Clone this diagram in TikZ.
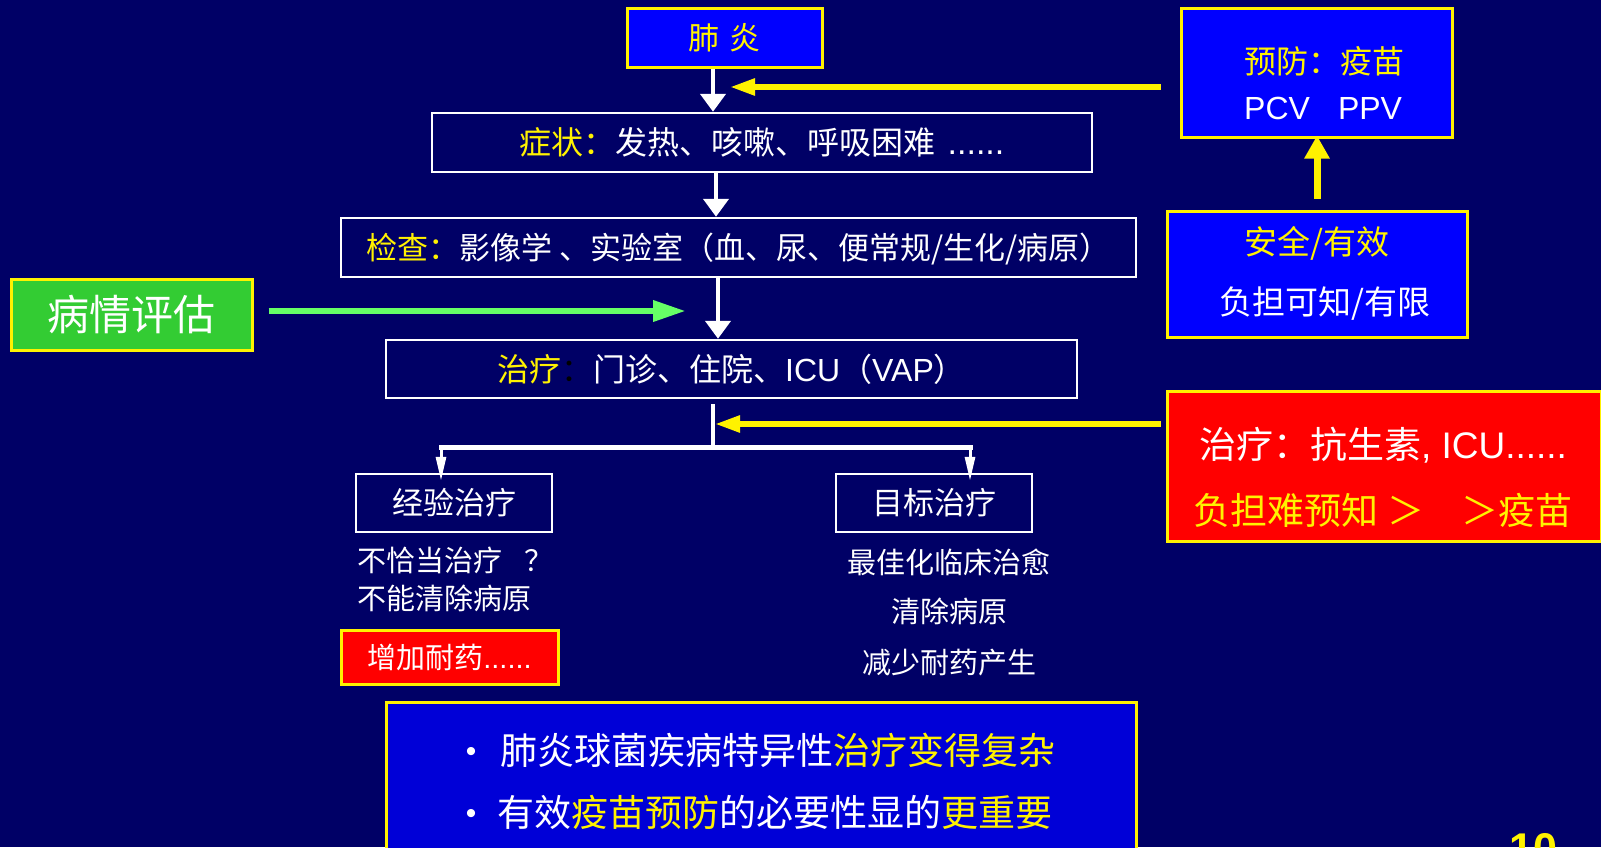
\documentclass[tikz,border=0pt]{standalone}
\usepackage{fontspec}
\setmainfont{Noto Sans CJK SC}
\newfontfamily\ar{Liberation Sans}
\usetikzlibrary{arrows.meta}
\definecolor{bg}{RGB}{0,0,102}
\definecolor{boxblue}{RGB}{0,0,255}
\definecolor{botblue}{RGB}{0,0,215}
\definecolor{gbox}{RGB}{51,204,51}
\definecolor{garrow}{RGB}{102,255,102}
\definecolor{rbox}{RGB}{255,0,0}
\newcommand\fsz[1]{\fontsize{#1}{#1}\selectfont}
\tikzset{
  fs/.style={font=\fsz{#1}, text height=0.88*#1, text depth=0.12*#1, inner sep=0pt},
  wbox/.style={draw=white, line width=2.5pt, text=white, inner sep=0pt},
  ybox/.style={draw=yellow, line width=3pt, fill=boxblue, inner sep=0pt},
  wtxt/.style={text=white},
  ytxt/.style={text=yellow},
  warrow/.style={white, line width=4.5pt, -{Triangle[width=25pt,length=18pt]}},
  yarrow/.style={yellow, line width=5.5pt, -{Triangle[width=16pt,length=25pt]}},
  yuparrow/.style={yellow, line width=7pt, -{Triangle[width=24pt,length=23pt]}},
  garrowst/.style={garrow, line width=6.5pt, -{Triangle[width=20pt,length=33pt]}},
  barrow/.style={white, line width=3pt, -{Triangle[width=10pt,length=24pt]}},
}
\begin{document}
\begin{tikzpicture}[x=1pt,y=-1pt]
\useasboundingbox (0,0) rectangle (1601,847);
\clip (0,0) rectangle (1601,847);
\fill[bg] (0,0) rectangle (1601,847);

% coordinates for connector x positions / free ends
\coordinate (cA) at (713,0);
\coordinate (cB) at (716,0);
\coordinate (cC) at (718,0);
\coordinate (cU) at (1317,0);
\coordinate (tip1) at (730,87);
\coordinate (tip2) at (715,424);
\coordinate (gtip) at (686,311);
\coordinate (bl) at (441,447);
\coordinate (br) at (970,447);

% main flow boxes
\node[ybox, fs=31, text=yellow, minimum width=195, minimum height=59] (fy) at (724.5,37.5) {肺\hspace{10pt}炎};
\node[wbox, fs=32, minimum width=660, minimum height=59] (sym) at (762,142.5)
  {\textcolor{yellow}{症状：}发热、咳嗽、呼吸困难\hspace{12pt}{\ar\fsz{34}......}};
\node[wbox, fs=31, minimum width=795, minimum height=59] (exam) at (738.5,247.5)
  {\textcolor{yellow}{检查：}影像学 、实验室（血、尿、便常规/生化/病原）};
\node[wbox, fs=32, minimum width=691, minimum height=58] (tx) at (731.5,369)
  {\textcolor{yellow}{治疗}\textcolor{black}{：}门诊、住院、{\ar ICU}（{\ar VAP}）};

% assessment
\node[draw=yellow, line width=3pt, fill=gbox, text=white, fs=42, minimum width=241, minimum height=71] (ill) at (131.5,314.5) {病情评估};

% branches
\node[wbox, fs=31, minimum width=196, minimum height=58] (exp) at (454,503) {经验治疗};
\node[wbox, fs=31, minimum width=196, minimum height=58] (tgt) at (934,503) {目标治疗};

\node[fs=29, wtxt, anchor=west] (e1) at (357,560) {不恰当治疗\hspace{22pt}？};
\node[fs=29, wtxt, anchor=west] (e2) at (357,598) {不能清除病原};
\node[draw=yellow, line width=3pt, fill=rbox, text=white, fs=29, minimum width=217, minimum height=54] (res) at (449.5,657) {增加耐药{\ar ......}};

\node[fs=29, wtxt] (t1) at (949,562) {最佳化临床治愈};
\node[fs=29, wtxt] (t2) at (949,611) {清除病原};
\node[fs=29, wtxt] (t3) at (949,662) {减少耐药产生};

% right side boxes
\node[ybox, minimum width=271, minimum height=129] (prev) at (1316.5,72.5) {};
\node[fs=32, ytxt, anchor=west] (p1) at (1244,61) {预防：疫苗};
\node[fs=32, wtxt, anchor=west] (p2) at (1244,107) {\ar PCV\hspace{28pt}PPV};

\node[ybox, minimum width=300, minimum height=126] (safe) at (1317,274) {};
\node[fs=33, ytxt] (s1) at (1317,242) {安全/有效};
\node[fs=33, wtxt] (s2) at (1325,302) {负担可知/有限};

\node[draw=yellow, line width=3pt, fill=rbox, inner sep=0pt, minimum width=434, minimum height=150] (red) at (1384,466) {};
\node[fs=37, wtxt] (r1) at (1383,444) {治疗：抗生素{\ar , ICU......}};
\node[fs=37, ytxt] (r2) at (1383,510) {负担难预知 ＞　＞疫苗};

% bottom summary box
\node[ybox, fill=botblue, minimum width=750, minimum height=178] (sum) at (761,791) {};
\node[fs=30, wtxt] (b1) at (471,750) {\ar •};
\node[fs=37, wtxt, anchor=west] (l1) at (500,750) {肺炎球菌疾病特异性\textcolor{yellow}{治疗变得复杂}};
\node[fs=30, wtxt] (b2) at (471,812) {\ar •};
\node[fs=37, wtxt, anchor=west] (l2) at (497,812) {有效\textcolor{yellow}{疫苗预防}的必要性显的\textcolor{yellow}{更重要}};

% page number (cut by the bottom edge, as in the reference)
\node[font=\fsz{43}\ar\bfseries, text=yellow, inner sep=0pt, anchor=base] (pg) at (1533,863) {10};

% connectors
\draw[warrow] (fy.south -| cA) -- (sym.north -| cA);
\draw[warrow] (sym.south -| cB) -- (exam.north -| cB);
\draw[warrow] (exam.south -| cC) -- (tx.north -| cC);
\draw[yarrow] ([xshift=-19pt]prev.west |- tip1) -- (tip1);
\draw[yuparrow] ([yshift=11pt]safe.north -| cU) -- ([yshift=3pt]prev.south -| cU);
\draw[garrowst] ([xshift=15pt]ill.east |- gtip) -- (gtip);
\draw[white, line width=4pt] ([yshift=-5pt]tx.south -| cA) -- (cA |- bl);
\draw[yarrow] ([xshift=-5pt]red.west |- tip2) -- (tip2);
\draw[white, line width=5pt, line cap=rect] (bl) -- (br);
\draw[barrow] (bl) -- ([yshift=-8pt]exp.north -| bl);
\draw[barrow] (br) -- ([yshift=-8pt]tgt.north -| br);
\end{tikzpicture}
\end{document}
